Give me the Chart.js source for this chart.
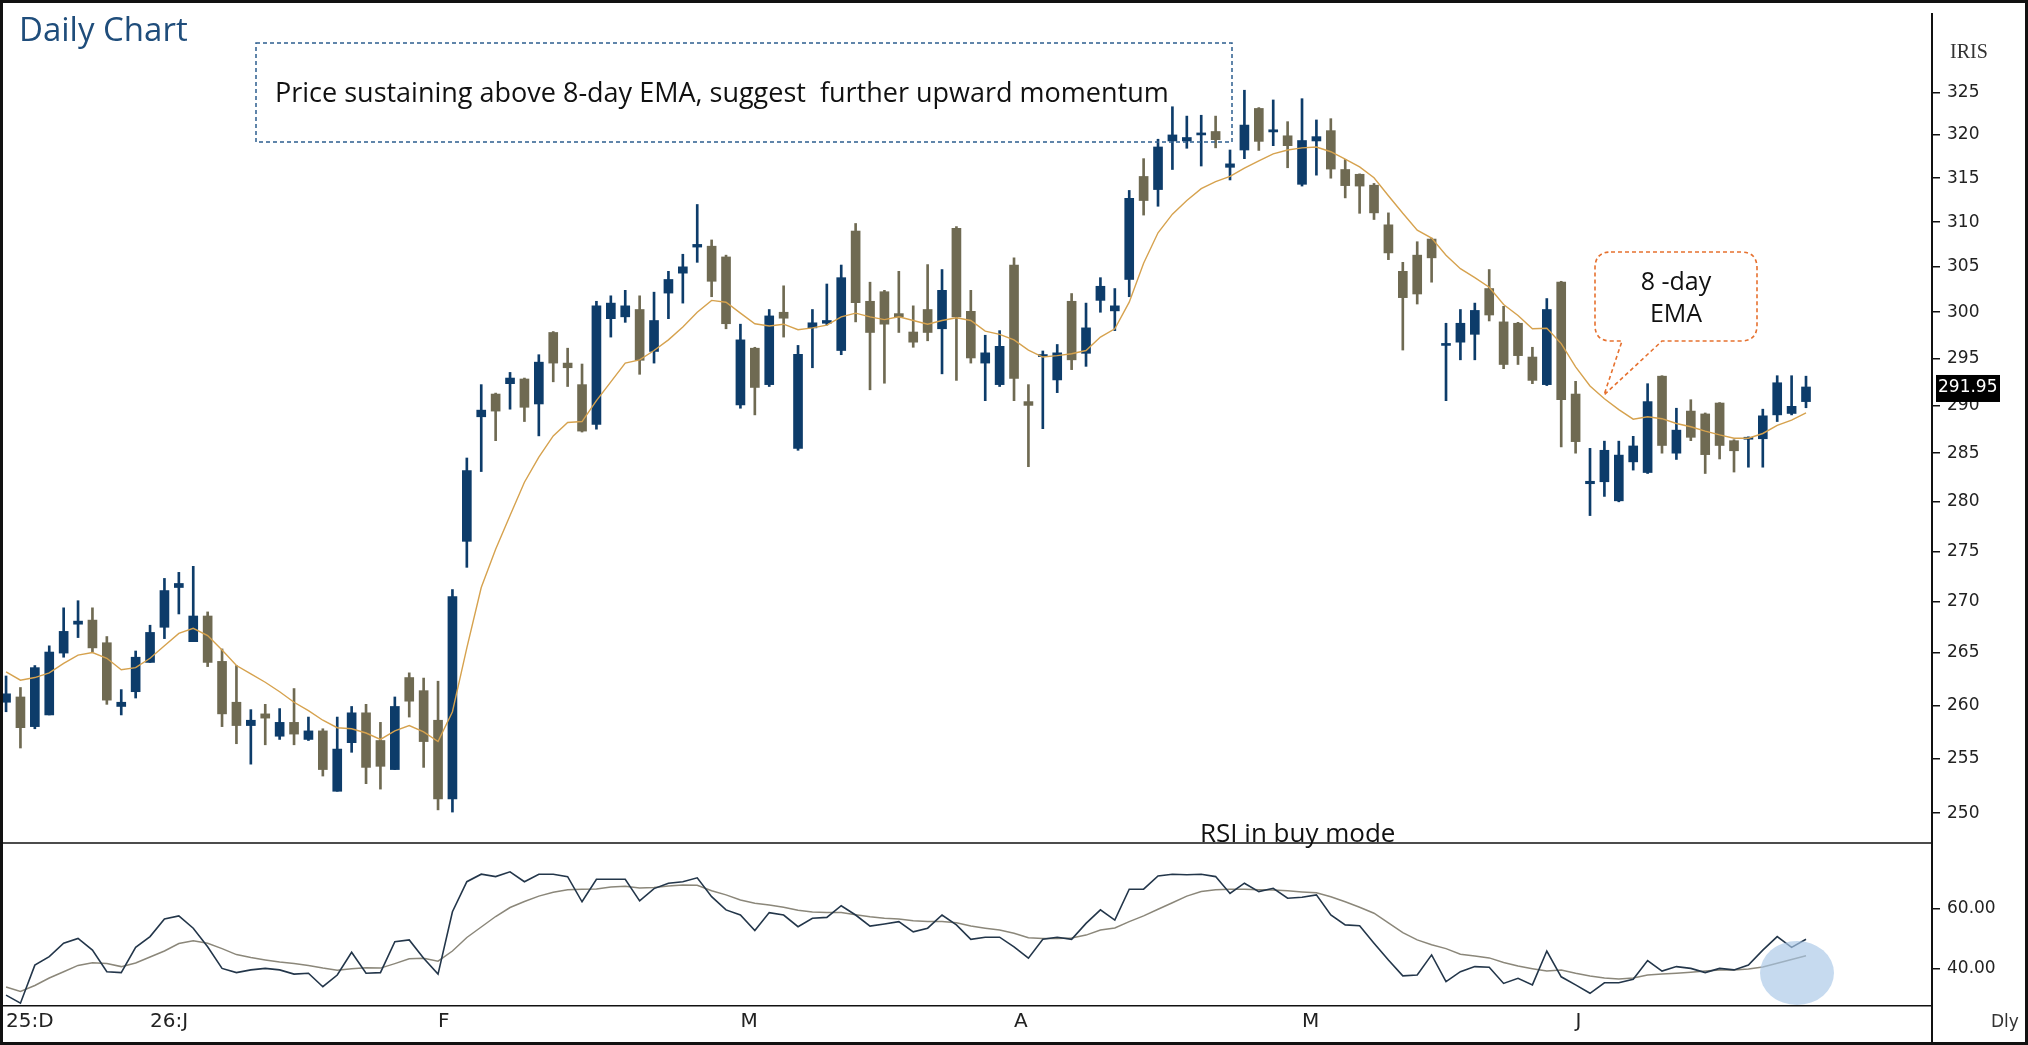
<!DOCTYPE html>
<html>
<head>
<meta charset="utf-8">
<title>Daily Chart</title>
<script src="https://cdn.jsdelivr.net/npm/chart.js@4.4.1/dist/chart.umd.min.js"></script>
<style>
  body { margin: 0; background: #fff; }
  #wrap { position: relative; width: 2028px; height: 1045px; overflow: hidden; background: #fff; }
  #wrap canvas { position: absolute; left: 0; }
  #priceChart { top: 0; }
  #rsiChart { top: 843px; }
  #notes { position: absolute; left: 0; top: 0; pointer-events: none; }
  #frame { position: absolute; left: 0; top: 0; width: 2028px; height: 1045px; border: 3px solid #111; box-sizing: border-box; pointer-events: none; }
</style>
</head>
<body>
<div id="wrap">
  <canvas id="priceChart" width="2028" height="845" style="width:2028px;height:845px"></canvas>
  <canvas id="rsiChart" width="2028" height="202" style="width:2028px;height:202px"></canvas>
  <svg id="notes" width="2028" height="1045" xmlns="http://www.w3.org/2000/svg">
    <text x="19" y="41" font-family="Open Sans" font-size="33" fill="#1f4d7b">Daily Chart</text>
    <rect x="256" y="43" width="976" height="99" fill="none" stroke="#2d5d8e" stroke-width="1.5" stroke-dasharray="4 3"/>
    <text x="275" y="102" font-family="Open Sans" font-size="27" font-weight="500" fill="#111" style="white-space:pre">Price sustaining above 8-day EMA, suggest  further upward momentum</text>
    <path d="M1611 252 H1741 Q1757 252 1757 268 V325 Q1757 341 1741 341 H1662 L1604 395 L1622 341 H1611 Q1595 341 1595 325 V268 Q1595 252 1611 252 Z" fill="none" stroke="#e6712f" stroke-width="1.6" stroke-dasharray="4 3"/>
    <text x="1676" y="290" text-anchor="middle" font-family="Open Sans" font-size="25" font-weight="500" fill="#111">8 -day</text>
    <text x="1676" y="322" text-anchor="middle" font-family="Open Sans" font-size="25" font-weight="500" fill="#111">EMA</text>
    <text x="1200" y="842" font-family="Open Sans" font-size="26" fill="#111">RSI in buy mode</text>
    <text x="1950" y="58" font-family="Liberation Serif" font-size="20" fill="#333">IRIS</text>
    <text x="1991" y="1027" font-family="DejaVu Sans" font-size="17" fill="#333">Dly</text>
    <ellipse cx="1797" cy="973" rx="37" ry="32" fill="#a8c6e6" fill-opacity="0.65"/>
  </svg>
  <div id="frame"></div>
</div>
<script>
// daily OHLC, one entry per session
const opens = [
  260.3, 260.8, 258.0, 259.1, 265.0, 267.8, 268.2, 266.0, 259.9, 261.3,
  264.1, 267.5, 271.4, 266.1, 268.6, 264.2, 260.3, 258.1, 259.2, 257.1,
  258.4, 256.8, 257.6, 252.0, 256.5, 259.3, 256.7, 254.0, 262.65, 261.4,
  258.6, 251.3, 276.0, 288.8, 291.2, 292.3, 292.8, 290.15, 297.8, 294.5,
  292.2, 288.0, 299.3, 299.5, 300.3, 295.75, 302.1, 304.3, 307.2, 307.3,
  306.1, 290.05, 296.1, 292.2, 300.0, 285.5, 298.3, 298.8, 295.85, 309.0,
  301.2, 302.25, 299.85, 297.85, 300.3, 298.2, 309.3, 300.1, 294.5, 292.2,
  305.2, 290.4, 295.2, 292.7, 301.2, 295.55, 301.3, 300.15, 303.6, 315.2,
  313.7, 319.3, 319.3, 320.0, 320.4, 316.25, 318.25, 323.1, 320.35, 319.9,
  314.3, 319.3, 320.5, 316.0, 315.45, 314.2, 309.7, 304.5, 306.3, 308.1,
  296.4, 296.75, 297.6, 302.6, 298.95, 298.8, 295.15, 292.2, 303.3, 291.2,
  281.85, 282.05, 280.1, 284.1, 283.0, 293.1, 285.0, 289.4, 289.1, 290.25,
  286.3, 286.45, 286.5, 289.0, 289.15, 290.4
];
const highs = [
  262.8, 261.7, 263.8, 265.7, 269.4, 270.1, 269.4, 266.6, 261.5, 265.2,
  267.7, 272.3, 272.9, 273.5, 269.0, 265.4, 263.8, 259.6, 260.1, 259.7,
  261.6, 258.9, 257.8, 258.9, 259.9, 260.1, 258.4, 260.8, 263.1, 262.6,
  262.3, 271.2, 284.5, 292.2, 291.3, 293.5, 292.9, 295.4, 297.9, 296.1,
  294.4, 301.2, 301.8, 302.4, 301.8, 302.2, 304.5, 306.4, 312.0, 308.0,
  306.3, 298.7, 296.2, 300.3, 302.9, 296.4, 300.3, 303.1, 305.2, 309.85,
  303.3, 302.4, 304.5, 300.7, 305.25, 304.7, 309.5, 302.4, 297.5, 298.0,
  306.0, 292.2, 295.8, 296.5, 302.05, 301.0, 303.8, 302.6, 313.6, 317.25,
  319.5, 323.3, 322.2, 322.3, 322.2, 318.25, 325.25, 323.2, 324.1, 321.55,
  324.25, 321.75, 321.9, 317.15, 315.5, 314.4, 311.05, 305.5, 307.8, 308.2,
  298.8, 300.3, 301.0, 304.7, 300.65, 298.9, 296.2, 301.5, 303.4, 292.55,
  285.5, 286.25, 286.25, 286.75, 292.3, 293.15, 289.7, 290.6, 289.2, 290.3,
  286.4, 286.7, 289.6, 293.15, 293.15, 293.1
];
const lows = [
  259.4, 256.0, 257.8, 259.1, 264.6, 266.5, 265.1, 260.1, 259.1, 260.7,
  264.1, 266.4, 268.8, 266.1, 263.7, 258.0, 256.4, 254.5, 256.3, 256.8,
  256.3, 256.7, 253.4, 252.0, 255.6, 252.7, 252.2, 254.0, 258.9, 254.2,
  250.3, 250.1, 273.4, 283.1, 286.3, 289.6, 288.3, 286.8, 292.5, 292.0,
  287.2, 287.5, 297.3, 298.9, 293.3, 294.5, 299.3, 301.0, 305.5, 301.7,
  298.2, 289.7, 289.0, 292.0, 297.3, 285.3, 294.0, 298.6, 295.4, 298.95,
  291.65, 292.35, 297.8, 296.2, 296.9, 293.35, 292.65, 294.5, 290.5, 292.0,
  290.5, 283.6, 287.55, 291.35, 293.8, 294.15, 300.0, 298.0, 301.7, 310.8,
  311.8, 316.0, 318.45, 316.4, 318.5, 314.8, 317.25, 318.2, 318.75, 316.2,
  314.1, 315.35, 315.0, 312.75, 311.0, 310.3, 305.8, 295.9, 300.9, 303.3,
  290.5, 294.85, 294.85, 299.05, 293.9, 294.35, 292.3, 292.1, 285.65, 285.0,
  278.6, 280.55, 280.0, 283.25, 282.9, 285.0, 284.35, 286.3, 282.9, 284.4,
  283.05, 283.55, 283.55, 288.3, 289.0, 289.75
];
const closes = [
  261.1, 257.9, 263.6, 265.1, 267.1, 268.1, 265.5, 260.5, 260.3, 264.6,
  267.0, 271.1, 271.8, 268.6, 264.1, 259.2, 258.1, 258.6, 258.8, 258.4,
  257.3, 257.6, 254.0, 255.9, 259.3, 254.2, 254.3, 259.9, 260.4, 256.6,
  251.3, 270.5, 283.2, 289.5, 289.4, 292.9, 289.8, 294.6, 294.5, 294.0,
  287.3, 300.7, 301.0, 300.7, 294.8, 299.1, 303.6, 305.0, 307.5, 303.4,
  298.75, 297.0, 291.9, 299.6, 299.35, 295.45, 298.85, 299.1, 303.8, 301.05,
  297.8, 298.7, 299.5, 296.75, 297.8, 302.4, 299.5, 295.05, 295.6, 296.3,
  292.85, 290.0, 295.35, 295.6, 294.85, 298.3, 302.85, 300.7, 312.7, 312.45,
  318.6, 320.0, 319.7, 320.1, 319.45, 316.65, 321.15, 319.25, 320.6, 318.75,
  319.35, 319.8, 316.05, 314.15, 314.1, 311.05, 306.55, 301.6, 302.0, 306.0,
  296.6, 298.8, 300.2, 299.7, 294.35, 295.3, 292.65, 300.3, 290.6, 286.2,
  282.1, 285.3, 284.8, 285.75, 290.4, 285.8, 287.4, 286.65, 284.85, 285.8,
  285.25, 286.6, 288.9, 292.4, 289.9, 291.95
];
// 8-day EMA as drawn
const ema8 = [
  263.2, 262.4, 262.65, 263.1, 264.0, 264.8, 265.05, 264.5, 263.4, 263.6,
  264.5, 265.7, 266.9, 267.4, 266.7, 265.3, 263.8, 263.0, 262.2, 261.3,
  260.3, 259.5, 258.6, 257.9, 257.8, 257.4, 256.8, 257.6, 258.1, 257.5,
  256.6, 259.4, 265.5, 271.4, 275.2, 278.6, 282.0, 284.6, 286.8, 288.2,
  288.3, 290.5, 292.5, 294.5, 294.85, 295.85, 297.0, 298.4, 300.0, 301.3,
  301.1, 299.9, 298.75, 298.5, 298.7, 298.1, 298.3, 298.6, 299.5, 299.9,
  299.5, 299.2, 299.5, 299.1, 298.7, 299.1, 299.4, 299.1, 297.95, 297.6,
  297.0, 295.9, 295.15, 295.3, 295.5, 295.85, 297.3, 298.2, 301.1, 305.4,
  308.8, 310.9, 312.45, 313.8, 314.6, 315.2, 316.15, 317.0, 317.8, 318.25,
  318.5, 318.6, 318.05, 317.2, 316.3, 315.05, 313.0, 311.0, 309.1, 308.2,
  306.3, 304.8, 303.8, 302.75, 300.85, 299.65, 298.2, 298.25, 296.6, 294.1,
  292.05, 290.7, 289.55, 288.55, 288.8, 288.6, 288.1, 287.75, 287.3, 286.9,
  286.55, 286.55, 287.05, 287.9, 288.45, 289.2
];
const rsi = [
  31.3, 28.6, 41.3, 44.1, 48.6, 50.2, 46.3, 39.1, 38.8, 47.2,
  50.8, 56.7, 57.7, 53.6, 47.4, 40.2, 38.8, 39.7, 40.2, 39.7,
  38.3, 38.6, 34.1, 38.0, 45.6, 38.6, 38.8, 49.1, 49.7, 43.6,
  38.3, 59.1, 69.1, 71.6, 70.8, 72.4, 69.1, 71.6, 71.6, 70.8,
  62.4, 69.9, 69.9, 69.9, 62.7, 66.8, 68.6, 69.1, 70.4, 64.1,
  59.7, 58.0, 52.8, 58.8, 58.0, 54.1, 56.9, 57.2, 61.1, 58.0,
  54.3, 55.0, 55.8, 52.4, 53.6, 58.0, 54.7, 49.9, 50.6, 50.6,
  47.4, 43.6, 49.9, 50.6, 49.9, 55.2, 59.7, 56.3, 66.6, 66.6,
  71.0, 71.6, 71.4, 71.6, 70.8, 65.2, 68.6, 65.8, 66.9, 63.6,
  63.9, 64.7, 58.0, 54.7, 54.4, 48.6, 43.0, 37.7, 38.0, 44.7,
  35.8, 39.1, 40.8, 40.6, 35.2, 36.9, 34.7, 46.0, 37.4, 34.7,
  31.9, 35.4, 35.4, 36.6, 42.8, 39.3, 40.8, 40.2, 38.8, 40.2,
  39.7, 41.3, 46.3, 50.8, 47.2, 49.9
];
const rsiSignal = [
  34.0, 32.5, 34.5, 37.0, 39.1, 41.2, 42.1, 41.8, 40.8, 42.0,
  44.0, 46.0, 48.5, 49.4, 48.6, 46.8, 44.8, 43.8, 43.0, 42.3,
  41.8, 41.2, 40.3, 39.6, 40.1, 40.4, 40.3, 41.8, 43.4, 43.6,
  42.6, 46.0, 50.5, 54.0, 57.5, 60.5, 62.5, 64.3, 65.6, 66.4,
  66.6, 66.7, 67.3, 67.6, 67.0, 67.2, 67.7, 68.0, 67.9, 66.1,
  64.7, 63.0, 61.9, 61.3, 60.6, 59.6, 59.0, 58.8, 58.8, 58.1,
  57.4, 56.9, 56.7, 56.1, 55.8, 55.8, 55.4, 54.3, 53.6, 53.0,
  51.9, 50.4, 50.2, 50.2, 50.3, 51.3, 53.0, 53.7, 55.8, 57.7,
  59.9, 62.1, 64.3, 65.8, 66.4, 66.6, 66.6, 66.4, 66.3, 66.1,
  65.7, 65.4, 64.1, 62.4, 60.6, 58.6, 55.4, 52.1, 49.7, 48.1,
  46.8, 44.9, 44.3, 43.7, 42.2, 41.0, 40.1, 39.3, 39.7, 38.6,
  37.7, 37.0, 36.7, 37.0, 38.0, 38.3, 38.6, 38.9, 39.3, 39.7,
  39.7, 40.0, 40.7, 41.9, 43.2, 44.4
];

const priceTicks = [250, 255, 260, 265, 270, 275, 280, 285, 290, 295, 300, 305, 310, 315, 320, 325];
const rsiTicks = [40, 60];
const monthStart = [0, 10, 30, 51, 70, 90, 109];   // session index where each month label sits
const monthLabels = ['25:D', '26:J', 'F', 'M', 'A', 'M', 'J'];

const BLUE = '#0d3c6a';
const OLIVE = '#6f6a52';
const AXIS_FONT = { family: 'DejaVu Sans', size: 17 };
const X_MIN = -0.42, X_MAX = 133.75;

Chart.defaults.font.family = 'DejaVu Sans';

const idx = closes.map((_, i) => i);
const bodies = idx.map(i => ({ x: i, y: [Math.min(opens[i], closes[i]), Math.max(opens[i], closes[i])] }));
const wicks = idx.map(i => ({ x: i, y: [lows[i], highs[i]] }));
const emaPts = idx.map(i => ({ x: i, y: ema8[i] }));
const rsiPts = idx.map(i => ({ x: i, y: rsi[i] }));
const sigPts = idx.map(i => ({ x: i, y: rsiSignal[i] }));
const candleColor = ctx => closes[ctx.dataIndex] >= opens[ctx.dataIndex] ? BLUE : OLIVE;

function fixRightAxis(scale) {
  scale.width = 96;
  scale.paddingTop = 0;
  scale.paddingBottom = 0;
}

// separator under the price pane + last price tag
const priceExtras = {
  id: 'priceExtras',
  afterDraw(chart) {
    const { ctx, chartArea, scales } = chart;
    ctx.save();
    ctx.strokeStyle = '#111';
    ctx.lineWidth = 1.5;
    ctx.beginPath();
    ctx.moveTo(0, chartArea.bottom);
    ctx.lineTo(chartArea.right, chartArea.bottom);
    ctx.stroke();

    const last = closes[closes.length - 1];
    const y = scales.y.getPixelForValue(last);
    ctx.fillStyle = '#000';
    ctx.fillRect(chartArea.right + 4, y - 12, 64, 27);
    ctx.fillStyle = '#fff';
    ctx.font = '17px "DejaVu Sans"';
    ctx.textAlign = 'left';
    ctx.textBaseline = 'middle';
    ctx.fillText(last.toFixed(2), chartArea.right + 6, y + 1);
    ctx.restore();
  }
};

const rsiExtras = {
  id: 'rsiExtras',
  afterDraw(chart) {
    const { ctx, chartArea } = chart;
    ctx.save();
    ctx.strokeStyle = '#111';
    ctx.lineWidth = 2;
    ctx.beginPath();
    ctx.moveTo(chartArea.right, chartArea.bottom);
    ctx.lineTo(chartArea.right, chart.height);
    ctx.stroke();
    ctx.restore();
  }
};

new Chart(document.getElementById('priceChart'), {
  type: 'bar',
  data: {
    datasets: [
      { type: 'line', data: emaPts, borderColor: '#d6a24e', borderWidth: 1.4, pointRadius: 0, tension: 0 },
      { data: bodies, backgroundColor: candleColor, barThickness: 9, minBarLength: 2, grouped: false },
      { data: wicks, backgroundColor: candleColor, barThickness: 2, grouped: false }
    ]
  },
  options: {
    responsive: false,
    animation: false,
    events: [],
    layout: { padding: { top: 14, bottom: 2, left: 0, right: 0 } },
    plugins: { legend: { display: false }, tooltip: { enabled: false } },
    scales: {
      x: { type: 'linear', min: X_MIN, max: X_MAX, offset: false, display: false },
      y: {
        type: 'logarithmic',
        position: 'right',
        min: 247.3,
        max: 334.4,
        afterBuildTicks: s => { s.ticks = priceTicks.map(v => ({ value: v })); },
        afterFit: fixRightAxis,
        ticks: { callback: v => String(v), color: '#222', font: AXIS_FONT, padding: 7 },
        grid: { drawOnChartArea: false, tickLength: 8, color: '#111', lineWidth: 1.5 },
        border: { color: '#111', width: 2 }
      }
    }
  },
  plugins: [priceExtras]
});

new Chart(document.getElementById('rsiChart'), {
  type: 'line',
  data: {
    datasets: [
      { data: rsiPts, borderColor: '#23364a', borderWidth: 1.6, pointRadius: 0, tension: 0 },
      { data: sigPts, borderColor: '#8b877a', borderWidth: 1.5, pointRadius: 0, tension: 0 }
    ]
  },
  options: {
    responsive: false,
    animation: false,
    events: [],
    layout: { padding: 0 },
    plugins: { legend: { display: false }, tooltip: { enabled: false } },
    scales: {
      x: {
        type: 'linear',
        min: X_MIN,
        max: X_MAX,
        offset: false,
        afterBuildTicks: s => { s.ticks = monthStart.map(v => ({ value: v })); },
        afterFit: s => { s.height = 39; s.paddingLeft = 0; s.paddingRight = 0; },
        ticks: { callback: (v, i) => monthLabels[i], align: 'start', maxRotation: 0, autoSkip: false, color: '#222', font: { family: 'DejaVu Sans', size: 20 }, padding: -4 },
        grid: { display: false },
        border: { display: true, color: '#111', width: 1.5 }
      },
      y: {
        position: 'right',
        min: 27.67,
        max: 82,
        afterBuildTicks: s => { s.ticks = rsiTicks.map(v => ({ value: v })); },
        afterFit: fixRightAxis,
        ticks: { callback: v => v.toFixed(2), color: '#222', font: AXIS_FONT, padding: 7 },
        grid: { drawOnChartArea: false, tickLength: 8, color: '#111', lineWidth: 1.5 },
        border: { color: '#111', width: 2 }
      }
    }
  },
  plugins: [rsiExtras]
});
</script>
</body>
</html>
